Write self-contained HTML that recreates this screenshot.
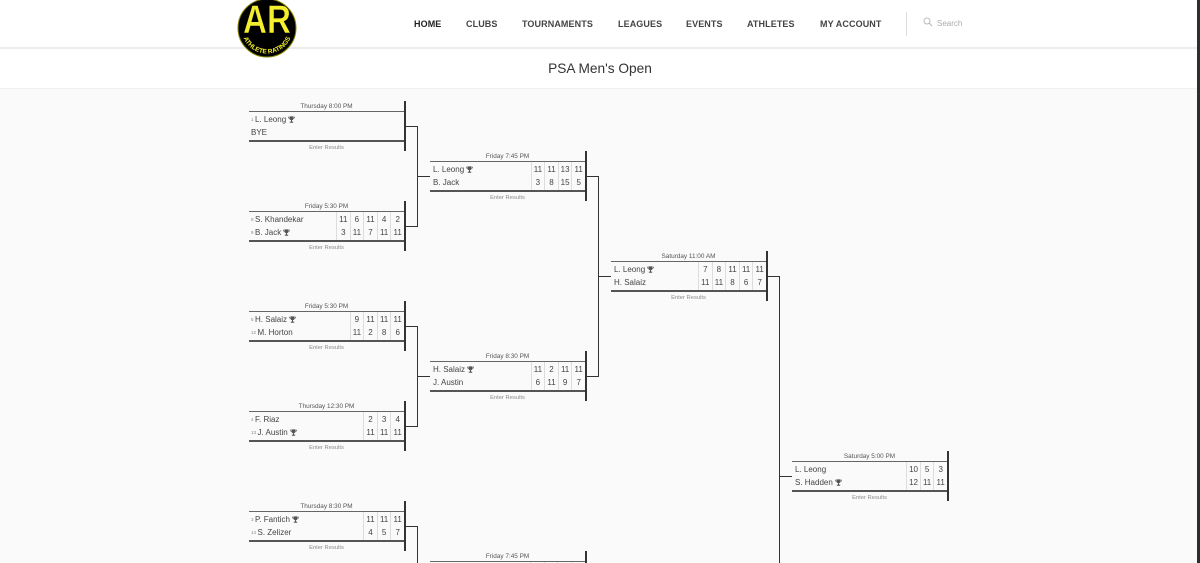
<!DOCTYPE html>
<html><head><meta charset="utf-8">
<style>
*{margin:0;padding:0;box-sizing:border-box}
html,body{width:1200px;height:563px;overflow:hidden;background:#fafafa;font-family:"Liberation Sans",Arial,sans-serif}
#wrap{position:relative;width:1200px;height:563px;overflow:hidden;background:#fafafa}
#hdr{position:absolute;left:0;top:0;width:1200px;height:49px;background:#fff;border-bottom:2px solid #ececec}
.nav{position:absolute;top:19px;font-size:9px;line-height:10px;font-weight:bold;color:#444;white-space:nowrap;letter-spacing:0.1px}
#ttl{position:absolute;left:0;top:49px;width:1200px;height:40px;background:#fff;border-bottom:1px solid #f0f0f0;text-align:center;font-size:13.7px;line-height:39px;color:#333}
#logo{position:absolute;left:236px;top:-2px;z-index:5}
#strip{position:absolute;left:1197px;top:0;width:3px;height:563px;background:#2e2e2e;z-index:6}
.m{position:absolute;width:157px;height:50px}
.t{position:absolute;left:0;top:1px;width:155px;text-align:center;font-size:6.4px;line-height:10px;color:#555;white-space:nowrap}
.tb{position:absolute;left:0;top:10px;width:155px;height:31px;border-top:1px solid #666;border-bottom:2px solid #555}
.n{position:absolute;left:2px;font-size:8px;line-height:14px;height:14px;color:#444;white-space:nowrap}
.n1{top:1px}.n2{top:14px}
.sd{font-size:4.5px;color:#888;margin-right:1.5px;vertical-align:1px}
.sc{position:absolute;top:0;height:28px;width:13.6px;border-left:1px solid #ddd;text-align:center;font-size:8px;color:#444}
.sc b{display:block;height:14px;line-height:14px;font-weight:normal}
.sc b:first-child{margin-top:1px;height:13px}
.er{position:absolute;left:0;top:43px;width:155px;text-align:center;font-size:5.8px;line-height:8px;color:#8a8a8a;white-space:nowrap}
.bar{position:absolute;left:155px;top:0;width:2px;height:50px;background:#333}
.c{position:absolute;background:#333}
svg.tr{width:7px;height:7px;margin-left:2px;vertical-align:-0.5px}
</style></head><body>
<div id="wrap">

<div id="hdr">
  <div class="nav" style="left:414px;color:#222">HOME</div>
  <div class="nav" style="left:466px">CLUBS</div>
  <div class="nav" style="left:522px">TOURNAMENTS</div>
  <div class="nav" style="left:618px">LEAGUES</div>
  <div class="nav" style="left:686px">EVENTS</div>
  <div class="nav" style="left:747px">ATHLETES</div>
  <div class="nav" style="left:820px">MY ACCOUNT</div>
  <div style="position:absolute;left:906px;top:12px;width:1px;height:24px;background:#ddd"></div>
  <svg style="position:absolute;left:923px;top:17px" width="10" height="10" viewBox="0 0 10 10"><circle cx="4" cy="4" r="3" fill="none" stroke="#bbb" stroke-width="1"/><line x1="6.2" y1="6.2" x2="9" y2="9" stroke="#bbb" stroke-width="1.2"/></svg>
  <div style="position:absolute;left:937px;top:19px;font-size:8px;line-height:10px;color:#aaa">Search</div>
</div>
<div id="ttl">PSA Men's Open</div>

<svg id="logo" width="62" height="62" viewBox="0 0 62 62">
  <defs><path id="arc" d="M5.5,30 A25.5,25.5 0 0,0 56.5,30"/></defs>
  <circle cx="31" cy="30" r="29" fill="#000" stroke="#8a8700" stroke-width="1"/>
  <text x="31" y="35" text-anchor="middle" font-family="Liberation Sans,Arial,sans-serif" font-weight="bold" font-size="40" fill="#f4ee2c" stroke="#000" stroke-width="0.6" textLength="48" lengthAdjust="spacingAndGlyphs">AR</text>
  <text font-family="Liberation Sans,Arial,sans-serif" font-weight="bold" font-size="6.4" fill="#f4ee2c"><textPath href="#arc" startOffset="50%" text-anchor="middle">ATHLETE RATINGS</textPath></text>
</svg>
<div id="strip"></div>

<!-- Round 1 -->
<div class="m" style="left:249px;top:101px">
  <div class="t">Thursday 8:00 PM</div>
  <div class="tb">
    <div class="n n1"><span class="sd">1</span>L. Leong<svg class="tr" viewBox="0 0 10 10"><path fill="#555" d="M2.5 0.5H7.5V3.5Q7.5 6 5 6Q2.5 6 2.5 3.5Z M0.3 1H2.5V2H1.3Q1.4 3.4 2.8 3.9L2.6 4.6Q0.3 4 0.3 1Z M9.7 1H7.5V2H8.7Q8.6 3.4 7.2 3.9L7.4 4.6Q9.7 4 9.7 1Z M4.3 6H5.7V8H4.3Z M2.6 8H7.4V9.6H2.6Z"/></svg></div>
    <div class="n n2">BYE</div>
  </div>
  <div class="er">Enter Results</div>
  <div class="bar"></div>
</div>

<div class="m" style="left:249px;top:201px">
  <div class="t">Friday 5:30 PM</div>
  <div class="tb">
    <div class="n n1"><span class="sd">8</span>S. Khandekar</div>
    <div class="n n2"><span class="sd">9</span>B. Jack<svg class="tr" viewBox="0 0 10 10"><path fill="#555" d="M2.5 0.5H7.5V3.5Q7.5 6 5 6Q2.5 6 2.5 3.5Z M0.3 1H2.5V2H1.3Q1.4 3.4 2.8 3.9L2.6 4.6Q0.3 4 0.3 1Z M9.7 1H7.5V2H8.7Q8.6 3.4 7.2 3.9L7.4 4.6Q9.7 4 9.7 1Z M4.3 6H5.7V8H4.3Z M2.6 8H7.4V9.6H2.6Z"/></svg></div>
    <div class="sc" style="right:54.4px"><b>11</b><b>3</b></div>
    <div class="sc" style="right:40.8px"><b>6</b><b>11</b></div>
    <div class="sc" style="right:27.2px"><b>11</b><b>7</b></div>
    <div class="sc" style="right:13.6px"><b>4</b><b>11</b></div>
    <div class="sc" style="right:0"><b>2</b><b>11</b></div>
  </div>
  <div class="er">Enter Results</div>
  <div class="bar"></div>
</div>

<div class="m" style="left:249px;top:301px">
  <div class="t">Friday 5:30 PM</div>
  <div class="tb">
    <div class="n n1"><span class="sd">5</span>H. Salaiz<svg class="tr" viewBox="0 0 10 10"><path fill="#555" d="M2.5 0.5H7.5V3.5Q7.5 6 5 6Q2.5 6 2.5 3.5Z M0.3 1H2.5V2H1.3Q1.4 3.4 2.8 3.9L2.6 4.6Q0.3 4 0.3 1Z M9.7 1H7.5V2H8.7Q8.6 3.4 7.2 3.9L7.4 4.6Q9.7 4 9.7 1Z M4.3 6H5.7V8H4.3Z M2.6 8H7.4V9.6H2.6Z"/></svg></div>
    <div class="n n2"><span class="sd">12</span>M. Horton</div>
    <div class="sc" style="right:40.8px"><b>9</b><b>11</b></div>
    <div class="sc" style="right:27.2px"><b>11</b><b>2</b></div>
    <div class="sc" style="right:13.6px"><b>11</b><b>8</b></div>
    <div class="sc" style="right:0"><b>11</b><b>6</b></div>
  </div>
  <div class="er">Enter Results</div>
  <div class="bar"></div>
</div>

<div class="m" style="left:249px;top:401px">
  <div class="t">Thursday 12:30 PM</div>
  <div class="tb">
    <div class="n n1"><span class="sd">4</span>F. Riaz</div>
    <div class="n n2"><span class="sd">13</span>J. Austin<svg class="tr" viewBox="0 0 10 10"><path fill="#555" d="M2.5 0.5H7.5V3.5Q7.5 6 5 6Q2.5 6 2.5 3.5Z M0.3 1H2.5V2H1.3Q1.4 3.4 2.8 3.9L2.6 4.6Q0.3 4 0.3 1Z M9.7 1H7.5V2H8.7Q8.6 3.4 7.2 3.9L7.4 4.6Q9.7 4 9.7 1Z M4.3 6H5.7V8H4.3Z M2.6 8H7.4V9.6H2.6Z"/></svg></div>
    <div class="sc" style="right:27.2px"><b>2</b><b>11</b></div>
    <div class="sc" style="right:13.6px"><b>3</b><b>11</b></div>
    <div class="sc" style="right:0"><b>4</b><b>11</b></div>
  </div>
  <div class="er">Enter Results</div>
  <div class="bar"></div>
</div>

<div class="m" style="left:249px;top:501px">
  <div class="t">Thursday 8:30 PM</div>
  <div class="tb">
    <div class="n n1"><span class="sd">3</span>P. Fantich<svg class="tr" viewBox="0 0 10 10"><path fill="#555" d="M2.5 0.5H7.5V3.5Q7.5 6 5 6Q2.5 6 2.5 3.5Z M0.3 1H2.5V2H1.3Q1.4 3.4 2.8 3.9L2.6 4.6Q0.3 4 0.3 1Z M9.7 1H7.5V2H8.7Q8.6 3.4 7.2 3.9L7.4 4.6Q9.7 4 9.7 1Z M4.3 6H5.7V8H4.3Z M2.6 8H7.4V9.6H2.6Z"/></svg></div>
    <div class="n n2"><span class="sd">14</span>S. Zelizer</div>
    <div class="sc" style="right:27.2px"><b>11</b><b>4</b></div>
    <div class="sc" style="right:13.6px"><b>11</b><b>5</b></div>
    <div class="sc" style="right:0"><b>11</b><b>7</b></div>
  </div>
  <div class="er">Enter Results</div>
  <div class="bar"></div>
</div>

<!-- Round 2 -->
<div class="m" style="left:430px;top:151px">
  <div class="t">Friday 7:45 PM</div>
  <div class="tb">
    <div class="n n1" style="left:3px">L. Leong<svg class="tr" viewBox="0 0 10 10"><path fill="#555" d="M2.5 0.5H7.5V3.5Q7.5 6 5 6Q2.5 6 2.5 3.5Z M0.3 1H2.5V2H1.3Q1.4 3.4 2.8 3.9L2.6 4.6Q0.3 4 0.3 1Z M9.7 1H7.5V2H8.7Q8.6 3.4 7.2 3.9L7.4 4.6Q9.7 4 9.7 1Z M4.3 6H5.7V8H4.3Z M2.6 8H7.4V9.6H2.6Z"/></svg></div>
    <div class="n n2" style="left:3px">B. Jack</div>
    <div class="sc" style="right:40.8px"><b>11</b><b>3</b></div>
    <div class="sc" style="right:27.2px"><b>11</b><b>8</b></div>
    <div class="sc" style="right:13.6px"><b>13</b><b>15</b></div>
    <div class="sc" style="right:0"><b>11</b><b>5</b></div>
  </div>
  <div class="er">Enter Results</div>
  <div class="bar"></div>
</div>

<div class="m" style="left:430px;top:351px">
  <div class="t">Friday 8:30 PM</div>
  <div class="tb">
    <div class="n n1" style="left:3px">H. Salaiz<svg class="tr" viewBox="0 0 10 10"><path fill="#555" d="M2.5 0.5H7.5V3.5Q7.5 6 5 6Q2.5 6 2.5 3.5Z M0.3 1H2.5V2H1.3Q1.4 3.4 2.8 3.9L2.6 4.6Q0.3 4 0.3 1Z M9.7 1H7.5V2H8.7Q8.6 3.4 7.2 3.9L7.4 4.6Q9.7 4 9.7 1Z M4.3 6H5.7V8H4.3Z M2.6 8H7.4V9.6H2.6Z"/></svg></div>
    <div class="n n2" style="left:3px">J. Austin</div>
    <div class="sc" style="right:40.8px"><b>11</b><b>6</b></div>
    <div class="sc" style="right:27.2px"><b>2</b><b>11</b></div>
    <div class="sc" style="right:13.6px"><b>11</b><b>9</b></div>
    <div class="sc" style="right:0"><b>11</b><b>7</b></div>
  </div>
  <div class="er">Enter Results</div>
  <div class="bar"></div>
</div>

<!-- partial match at bottom edge -->
<div class="m" style="left:430px;top:551px;height:12px">
  <div class="t">Friday 7:45 PM</div>
  <div style="position:absolute;left:0;top:10px;width:155px;height:1px;background:#666"></div>
  <div style="position:absolute;left:100px;top:11px;width:1px;height:1px;background:#ddd"></div>
  <div style="position:absolute;left:114px;top:11px;width:1px;height:1px;background:#ddd"></div>
  <div style="position:absolute;left:127px;top:11px;width:1px;height:1px;background:#ddd"></div>
  <div style="position:absolute;left:141px;top:11px;width:1px;height:1px;background:#ddd"></div>
  <div class="bar" style="height:12px"></div>
</div>

<!-- Round 3 -->
<div class="m" style="left:611px;top:251px">
  <div class="t">Saturday 11:00 AM</div>
  <div class="tb">
    <div class="n n1" style="left:3px">L. Leong<svg class="tr" viewBox="0 0 10 10"><path fill="#555" d="M2.5 0.5H7.5V3.5Q7.5 6 5 6Q2.5 6 2.5 3.5Z M0.3 1H2.5V2H1.3Q1.4 3.4 2.8 3.9L2.6 4.6Q0.3 4 0.3 1Z M9.7 1H7.5V2H8.7Q8.6 3.4 7.2 3.9L7.4 4.6Q9.7 4 9.7 1Z M4.3 6H5.7V8H4.3Z M2.6 8H7.4V9.6H2.6Z"/></svg></div>
    <div class="n n2" style="left:3px">H. Salaiz</div>
    <div class="sc" style="right:54.4px"><b>7</b><b>11</b></div>
    <div class="sc" style="right:40.8px"><b>8</b><b>11</b></div>
    <div class="sc" style="right:27.2px"><b>11</b><b>8</b></div>
    <div class="sc" style="right:13.6px"><b>11</b><b>6</b></div>
    <div class="sc" style="right:0"><b>11</b><b>7</b></div>
  </div>
  <div class="er">Enter Results</div>
  <div class="bar"></div>
</div>

<!-- Final -->
<div class="m" style="left:792px;top:451px">
  <div class="t">Saturday 5:00 PM</div>
  <div class="tb">
    <div class="n n1" style="left:3px">L. Leong</div>
    <div class="n n2" style="left:3px">S. Hadden<svg class="tr" viewBox="0 0 10 10"><path fill="#555" d="M2.5 0.5H7.5V3.5Q7.5 6 5 6Q2.5 6 2.5 3.5Z M0.3 1H2.5V2H1.3Q1.4 3.4 2.8 3.9L2.6 4.6Q0.3 4 0.3 1Z M9.7 1H7.5V2H8.7Q8.6 3.4 7.2 3.9L7.4 4.6Q9.7 4 9.7 1Z M4.3 6H5.7V8H4.3Z M2.6 8H7.4V9.6H2.6Z"/></svg></div>
    <div class="sc" style="right:27.2px"><b>10</b><b>12</b></div>
    <div class="sc" style="right:13.6px"><b>5</b><b>11</b></div>
    <div class="sc" style="right:0"><b>3</b><b>11</b></div>
  </div>
  <div class="er">Enter Results</div>
  <div class="bar"></div>
</div>

<!-- Connectors R1 -> R2 -->
<div class="c" style="left:406px;top:126px;width:12px;height:1px"></div>
<div class="c" style="left:406px;top:226px;width:12px;height:1px"></div>
<div class="c" style="left:417px;top:126px;width:1px;height:101px"></div>
<div class="c" style="left:417px;top:176px;width:13px;height:1px"></div>

<div class="c" style="left:406px;top:326px;width:12px;height:1px"></div>
<div class="c" style="left:406px;top:426px;width:12px;height:1px"></div>
<div class="c" style="left:417px;top:326px;width:1px;height:101px"></div>
<div class="c" style="left:417px;top:376px;width:13px;height:1px"></div>

<div class="c" style="left:406px;top:526px;width:12px;height:1px"></div>
<div class="c" style="left:417px;top:526px;width:1px;height:37px"></div>

<!-- R2 -> R3 -->
<div class="c" style="left:587px;top:176px;width:12px;height:1px"></div>
<div class="c" style="left:587px;top:376px;width:12px;height:1px"></div>
<div class="c" style="left:598px;top:176px;width:1px;height:201px"></div>
<div class="c" style="left:598px;top:276px;width:13px;height:1px"></div>

<!-- R3 -> Final -->
<div class="c" style="left:768px;top:276px;width:12px;height:1px"></div>
<div class="c" style="left:779px;top:276px;width:1px;height:287px"></div>
<div class="c" style="left:779px;top:476px;width:13px;height:1px"></div>

</div>
</body></html>
